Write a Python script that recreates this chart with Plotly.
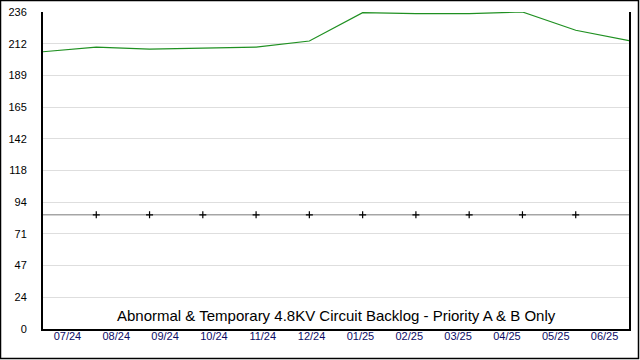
import plotly.graph_objects as go

months = ["07/24", "08/24", "09/24", "10/24", "11/24", "12/24",
          "01/25", "02/25", "03/25", "04/25", "05/25", "06/25"]
backlog = [206.4, 209.9, 208.4, 208.9, 209.9, 214.4,
           235.5, 234.8, 234.8, 236.0, 222.4, 214.7]
target = [85] * 12
ytick_vals = [0, 23.6, 47.2, 70.8, 94.4, 118, 141.6, 165.2, 188.8, 212.4, 236]
ytick_text = ["0", "24", "47", "71", "94", "118", "142", "165", "189", "212", "236"]
title_text = "Abnormal & Temporary 4.8KV Circuit Backlog - Priority A & B Only"

W, H = 640, 360
ML, MR, MT, MB = 43, 11, 12, 31
pw, ph = W - ML - MR, H - MT - MB

n = len(months)
xs = list(range(n))
label_pos = [(i + 0.5) * (n - 1) / n for i in range(n)]

fig = go.Figure()
fig.add_trace(go.Scatter(x=xs, y=target, mode="lines",
                         line=dict(color="#7a7a7a", width=1),
                         hoverinfo="skip", showlegend=False))
fig.add_trace(go.Scatter(x=xs[1:-1], y=target[1:-1], mode="markers",
                         marker=dict(symbol="cross-thin", size=5,
                                     line=dict(color="black", width=1.2)),
                         showlegend=False))
fig.add_trace(go.Scatter(x=xs, y=backlog, mode="lines",
                         line=dict(color="#1f9021", width=1.2),
                         showlegend=False))

fig.update_layout(
    template="none",
    width=W, height=H, autosize=False,
    margin=dict(l=ML, r=MR, t=MT, b=MB, pad=0, autoexpand=False),
    paper_bgcolor="white", plot_bgcolor="white",
    font=dict(family="Liberation Sans, Arial, sans-serif", size=11, color="black"),
    xaxis=dict(range=[0, n - 1], tickmode="array", tickvals=label_pos, ticktext=months,
               showgrid=False, zeroline=False, showline=True, linecolor="black",
               linewidth=2, ticks="", tickfont=dict(size=11, color="#0c0c66"),
               ticklabelstandoff=-4, automargin=False),
    yaxis=dict(range=[0, 236], tickmode="array", tickvals=ytick_vals, ticktext=ytick_text,
               showgrid=True, gridcolor="#dedede", gridwidth=1, zeroline=False,
               showline=True, mirror=True, linecolor="black", linewidth=2,
               ticks="", ticklabelstandoff=12, tickfont=dict(size=11, color="black"),
               automargin=False),
    annotations=[dict(text=title_text, xref="paper", yref="paper", x=0.5, y=14 / ph,
                      xanchor="center", yanchor="middle", showarrow=False,
                      font=dict(size=15, color="black"))],
    shapes=[dict(type="rect", xref="paper", yref="paper",
                 x0=(-ML + 0.5) / pw, x1=(pw + MR - 1.5) / pw,
                 y0=(-MB + 1.5) / ph, y1=(ph + MT - 0.5) / ph,
                 line=dict(color="black", width=1.5), layer="above")],
)

fig.write_html("out.html", config={"displayModeBar": False},
               post_script="document.body.style.margin='0';document.body.style.overflow='hidden';")
